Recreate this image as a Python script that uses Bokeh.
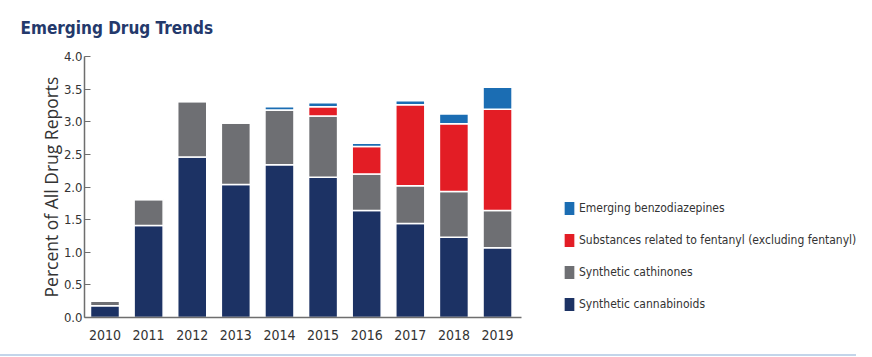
from bokeh.plotting import figure
from bokeh.models import (Range1d, FixedTicker, NumeralTickFormatter,
                          Legend, LegendItem, Div, ColumnDataSource)
from bokeh.layouts import column
from bokeh.embed import file_html
from bokeh.resources import INLINE

years = ["2010", "2011", "2012", "2013", "2014", "2015", "2016", "2017", "2018", "2019"]
cannabinoids = [0.18, 1.41, 2.46, 2.04, 2.34, 2.15, 1.64, 1.44, 1.23, 1.07]
cathinones = [0.07, 0.40, 0.85, 0.94, 0.84, 0.94, 0.56, 0.58, 0.70, 0.57]
fentanyl_related = [0.0, 0.0, 0.0, 0.0, 0.0, 0.14, 0.42, 1.24, 1.04, 1.55]
benzodiazepines = [0.0, 0.0, 0.0, 0.0, 0.05, 0.06, 0.05, 0.06, 0.15, 0.34]
y_ticks = [0.0, 0.5, 1.0, 1.5, 2.0, 2.5, 3.0, 3.5, 4.0]
series_keys = ["cann", "cath", "fent", "benzo"]
series_names = ["Synthetic cannabinoids", "Synthetic cathinones",
                "Substances related to fentanyl (excluding fentanyl)",
                "Emerging benzodiazepines"]
colors = ["#1c3264", "#6e6f73", "#e31d25", "#1b6db3"]

FONT = "DejaVu Sans Condensed"

pos = list(range(len(years)))
src = ColumnDataSource(dict(pos=pos, year=years, cann=cannabinoids, cath=cathinones,
                            fent=fentanyl_related, benzo=benzodiazepines))

p = figure(x_range=Range1d(-0.47, 17.23), y_range=Range1d(0, 4.0),
           width=856, height=354, output_backend="svg", toolbar_location=None,
           min_border_left=84, min_border_right=0, min_border_top=55,
           min_border_bottom=37)

rs = p.vbar_stack(series_keys, x="pos", width=0.665, source=src,
                  fill_color=colors, line_color="white", line_width=1.5)

p.title.text = "Emerging Drug Trends"
p.title.text_font = FONT
p.title.text_font_style = "bold"
p.title.text_font_size = "17px"
p.title.text_color = "#24396b"
p.title.offset = -64
p.title.standoff = 34
p.title.vertical_align = "top"

p.xaxis.ticker = FixedTicker(ticks=pos)
p.xaxis.major_label_overrides = {i: y for i, y in zip(pos, years)}
p.xaxis.bounds = (-0.47, 9.54)
p.yaxis.ticker = FixedTicker(ticks=y_ticks)
p.yaxis.formatter = NumeralTickFormatter(format="0.0")
p.yaxis.axis_label = "Percent of All Drug Reports"
p.yaxis.axis_label_text_font = "Open Sans"
p.yaxis.axis_label_text_font_style = "normal"
p.yaxis.axis_label_text_font_size = "17.5px"
p.yaxis.axis_label_text_color = "#333333"
p.yaxis.axis_label_standoff = -2
p.yaxis.major_tick_in = 6
p.yaxis.major_tick_out = 0
p.yaxis.minor_tick_line_color = None
p.yaxis.major_label_standoff = 2
p.xaxis.major_tick_line_color = None
p.xaxis.minor_tick_line_color = None
p.xaxis.major_label_standoff = 6
for ax in (p.xaxis, p.yaxis):
    ax.axis_line_color = "#6e6e6e"
    ax.axis_line_width = 1.5
    ax.major_label_text_font = FONT
    ax.major_label_text_color = "#333333"
p.xaxis.major_label_text_font_size = "14px"
p.yaxis.major_label_text_font_size = "13px"
p.yaxis.major_tick_line_color = "#6e6e6e"

p.grid.visible = False
p.outline_line_color = None

items = [LegendItem(label=series_names[i], renderers=[rs[i]]) for i in [3, 2, 1, 0]]
legend = Legend(items=items, location=(478, 4), padding=0, margin=0, spacing=14,
                glyph_width=14, glyph_height=18, label_height=18, label_standoff=3,
                label_text_font=FONT, label_text_font_size="12px",
                label_text_color="#333333", border_line_color=None,
                background_fill_alpha=0)
p.add_layout(legend, "center")

rule = Div(text="", width=856, height=2, margin=0,
           styles={"background-color": "#c3d5ea"})

layout = column(p, rule, spacing=0)
open("out.html", "w").write(file_html(layout, INLINE))
